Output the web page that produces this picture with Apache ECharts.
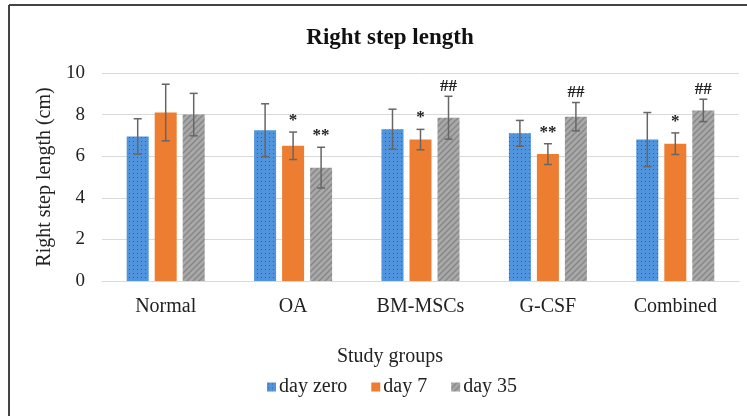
<!DOCTYPE html>
<html><head><meta charset="utf-8">
<script src="https://cdn.jsdelivr.net/npm/echarts@6/dist/echarts.min.js"></script>
<style>html,body{margin:0;padding:0;background:#fff;}#c{width:747px;height:416px;}</style>
</head><body><div id="c"></div>
<script>
var categories = ['Normal', 'OA', 'BM-MSCs', 'G-CSF', 'Combined'];
var seriesNames = ['day zero', 'day 7', 'day 35'];
var dayZero = [6.95, 7.25, 7.3, 7.1, 6.8];
var day7 = [8.1, 6.5, 6.8, 6.1, 6.6];
var day35 = [8.0, 5.45, 7.85, 7.9, 8.2];
var dayZeroSD = [0.85, 1.27, 0.96, 0.62, 1.3];
var day7SD = [1.36, 0.66, 0.49, 0.5, 0.52];
var day35SD = [1.02, 0.98, 1.03, 0.68, 0.54];
var day7Marks = ['', '*', '*', '**', '*'];
var day35Marks = ['', '**', '##', '##', '##'];
var yTicks = [0, 2, 4, 6, 8, 10];

function makePattern(kind) {
  var c = document.createElement('canvas');
  var s = kind === 'dots' ? 4 : 6;
  c.width = s; c.height = s;
  var g = c.getContext('2d');
  if (kind === 'dots') {
    g.fillStyle = '#4f94dc'; g.fillRect(0, 0, s, s);
    g.fillStyle = '#2c5f9c'; g.fillRect(1, 1, 1, 1);
  } else {
    g.fillStyle = '#a8a8a8'; g.fillRect(0, 0, s, s);
    g.strokeStyle = '#868686'; g.lineWidth = 1.4;
    g.beginPath();
    g.moveTo(0, s); g.lineTo(s, 0);
    g.stroke();
    g.beginPath();
    g.moveTo(-1, 1); g.lineTo(1, -1);
    g.moveTo(s - 1, s + 1); g.lineTo(s + 1, s - 1);
    g.stroke();
  }
  return { image: c, repeat: 'repeat' };
}
var blueFill = makePattern('dots');
var grayFill = makePattern('hatch');
var orangeFill = '#ed7d31';

var serif = '"Liberation Serif", "Times New Roman", serif';
var BW = 22, GAP = 6;

function errSeries(vals, sds, marks, idx) {
  var data = vals.map(function (v, i) { return [i, v, sds[i], marks ? marks[i] : '']; });
  return {
    type: 'custom', name: seriesNames[idx] + ' err', z: 10, silent: true,
    data: data,
    renderItem: function (params, api) {
      var i = api.value(0), v = api.value(1), sd = api.value(2);
      var off = (idx - 1) * (BW + GAP);
      var top = api.coord([i, v + sd]);
      var bot = api.coord([i, v - sd]);
      var x = top[0] + off;
      var col = '#666';
      var st = { stroke: col, lineWidth: 1.5 };
      var children = [
        { type: 'line', shape: { x1: x, y1: top[1], x2: x, y2: bot[1] }, style: st },
        { type: 'line', shape: { x1: x - 4, y1: top[1], x2: x + 4, y2: top[1] }, style: st },
        { type: 'line', shape: { x1: x - 4, y1: bot[1], x2: x + 4, y2: bot[1] }, style: st }
      ];
      var m = data[params.dataIndex][3];
      if (m) {
        var isHash = m.indexOf('#') >= 0;
        children.push({ type: 'text', style: { text: m, x: x, y: top[1] - (isHash ? 1 : 3), align: 'center', verticalAlign: 'bottom',
          font: 'bold 17px ' + serif, fill: '#222' } });
      }
      return { type: 'group', children: children };
    }
  };
}

var chart = echarts.init(document.getElementById('c'), null, { renderer: 'canvas' });
chart.setOption({
  animation: false,
  backgroundColor: '#fff',
  title: [
    { text: 'Right step length', left: 385, top: 22, textAlign: 'center',
      textStyle: { fontFamily: serif, fontSize: 23, fontWeight: 'bold', color: '#111' } },
    { text: 'Study groups', left: 385, top: 342, textAlign: 'center',
      textStyle: { fontFamily: serif, fontSize: 20, fontWeight: 'normal', color: '#222' } }
  ],
  legend: { top: 372, left: 262, itemWidth: 9, itemHeight: 9, itemGap: 24, icon: 'rect',
    data: seriesNames,
    textStyle: { fontFamily: serif, fontSize: 20, color: '#222', padding: [0, 0, 0, -2] } },
  grid: { left: 102, right: 8, top: 73, bottom: 135 },
  xAxis: { type: 'category', data: categories,
    axisLine: { lineStyle: { color: '#d9d9d9', width: 1 } },
    axisTick: { show: false },
    axisLabel: { fontFamily: serif, fontSize: 20, color: '#222', margin: 16 } },
  yAxis: { type: 'value', min: yTicks[0], max: yTicks[yTicks.length - 1], interval: 2,
    name: 'Right step length (cm)', nameLocation: 'middle', nameGap: 44,
    nameTextStyle: { fontFamily: serif, fontSize: 20, color: '#222' },
    axisLine: { show: false }, axisTick: { show: false },
    axisLabel: { fontFamily: serif, fontSize: 19, color: '#222', margin: 17 },
    splitLine: { lineStyle: { color: '#d9d9d9', width: 1 } } },
  graphic: [
    { type: 'line', shape: { x1: 9, y1: 5, x2: 747, y2: 5 }, style: { stroke: '#444', lineWidth: 2 } },
    { type: 'line', shape: { x1: 9, y1: 5, x2: 9, y2: 416 }, style: { stroke: '#444', lineWidth: 2 } }
  ],
  series: [
    { type: 'bar', name: seriesNames[0], data: dayZero, barWidth: BW, barGap: (GAP / BW * 100) + '%', itemStyle: { color: blueFill } },
    { type: 'bar', name: seriesNames[1], data: day7, barWidth: BW, barGap: (GAP / BW * 100) + '%', itemStyle: { color: orangeFill } },
    { type: 'bar', name: seriesNames[2], data: day35, barWidth: BW, barGap: (GAP / BW * 100) + '%', itemStyle: { color: grayFill } },
    errSeries(dayZero, dayZeroSD, null, 0),
    errSeries(day7, day7SD, day7Marks, 1),
    errSeries(day35, day35SD, day35Marks, 2)
  ]
});
</script></body></html>
